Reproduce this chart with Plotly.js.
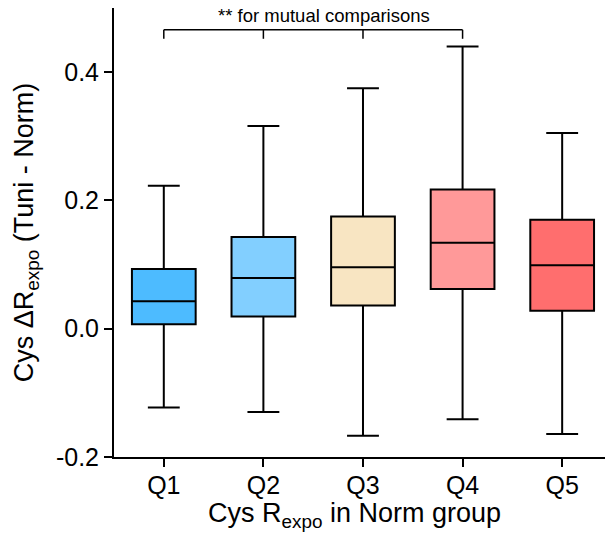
<!DOCTYPE html>
<html>
<head>
<meta charset="utf-8">
<script src="https://cdn.plot.ly/plotly-3.0.1.min.js"></script>
<style>html,body{margin:0;padding:0;background:#fff;}#chart{width:605px;height:538px;}</style>
</head>
<body>
<div id="chart"></div>
<script>
// ---- data ----
var categories = ['Q1', 'Q2', 'Q3', 'Q4', 'Q5'];
var lowerWhisker = [-0.123, -0.130, -0.167, -0.141, -0.164];
var q1Values     = [0.007, 0.019, 0.036, 0.062, 0.028];
var medianValues = [0.043, 0.079, 0.096, 0.134, 0.099];
var q3Values     = [0.093, 0.143, 0.175, 0.217, 0.170];
var upperWhisker = [0.223, 0.316, 0.375, 0.440, 0.305];
var boxColors    = ['#4DBBFF', '#82CFFF', '#F8E5C2', '#FF9999', '#FF6E6E'];
var yTickValues  = [-0.2, 0.0, 0.2, 0.4];
var yTickLabels  = ['-0.2', '0.0', '0.2', '0.4'];
var bracketGroups = ['Q1', 'Q2', 'Q3', 'Q4'];
var bracketLabel = '** for mutual comparisons';

var FONT = 'Liberation Sans, Arial, sans-serif';

var traces = categories.map(function (c, i) {
  return {
    type: 'box',
    name: c,
    x: [c],
    q1: [q1Values[i]],
    median: [medianValues[i]],
    q3: [q3Values[i]],
    lowerfence: [lowerWhisker[i]],
    upperfence: [upperWhisker[i]],
    width: 0.64,
    whiskerwidth: 0.5,
    fillcolor: boxColors[i],
    line: {color: '#000000', width: 2},
    boxpoints: false,
    showlegend: false,
    hoverinfo: 'y'
  };
});

// bracket above Q1..Q4
var bracketTop = 0.466, bracketBottom = 0.452;
var shapes = [{
  type: 'line', xref: 'x', yref: 'y',
  x0: bracketGroups[0], x1: bracketGroups[bracketGroups.length - 1],
  y0: bracketTop, y1: bracketTop,
  line: {color: '#000', width: 1.5}
}];
bracketGroups.forEach(function (g) {
  shapes.push({
    type: 'line', xref: 'x', yref: 'y',
    x0: g, x1: g, y0: bracketTop, y1: bracketBottom,
    line: {color: '#000', width: 1.5}
  });
});

var layout = {
  width: 605, height: 538,
  margin: {l: 114, r: 0, t: 8, b: 81},
  paper_bgcolor: '#fff', plot_bgcolor: '#fff',
  font: {family: FONT, color: '#000', size: 24},
  boxmode: 'overlay',
  xaxis: {
    type: 'category',
    categoryorder: 'array', categoryarray: categories,
    range: [-0.5, 4.43],
    showline: true, linecolor: '#000', linewidth: 2,
    ticks: 'outside', ticklen: 8, tickwidth: 2, tickcolor: '#000',
    ticklabelstandoff: -3,
    showgrid: false, zeroline: false,
    tickfont: {family: FONT, size: 25, color: '#000'}
  },
  yaxis: {
    range: [-0.2, 0.5],
    tickvals: yTickValues, ticktext: yTickLabels,
    showline: true, linecolor: '#000', linewidth: 2,
    ticks: 'outside', ticklen: 8, tickwidth: 2, tickcolor: '#000',
    showgrid: false, zeroline: false,
    tickfont: {family: FONT, size: 25, color: '#000'},
    title: {text: 'Cys ΔR<sub>expo</sub> (Tuni - Norm)', font: {family: FONT, size: 27, color: '#000'}, standoff: 14}
  },
  shapes: shapes,
  annotations: [
    {
      text: bracketLabel, xref: 'x', yref: 'y', x: 1.61, y: 0.488,
      showarrow: false, xanchor: 'center', yanchor: 'middle',
      font: {family: FONT, size: 18.5, color: '#000'}
    },
    {
      text: 'Cys R<sub>expo</sub> in Norm group', xref: 'paper', yref: 'paper',
      x: 0.49, y: -0.087, showarrow: false, xanchor: 'center', yanchor: 'top',
      font: {family: FONT, size: 27, color: '#000'}
    }
  ]
};

Plotly.newPlot('chart', traces, layout, {displayModeBar: false, staticPlot: true});
</script>
</body>
</html>
